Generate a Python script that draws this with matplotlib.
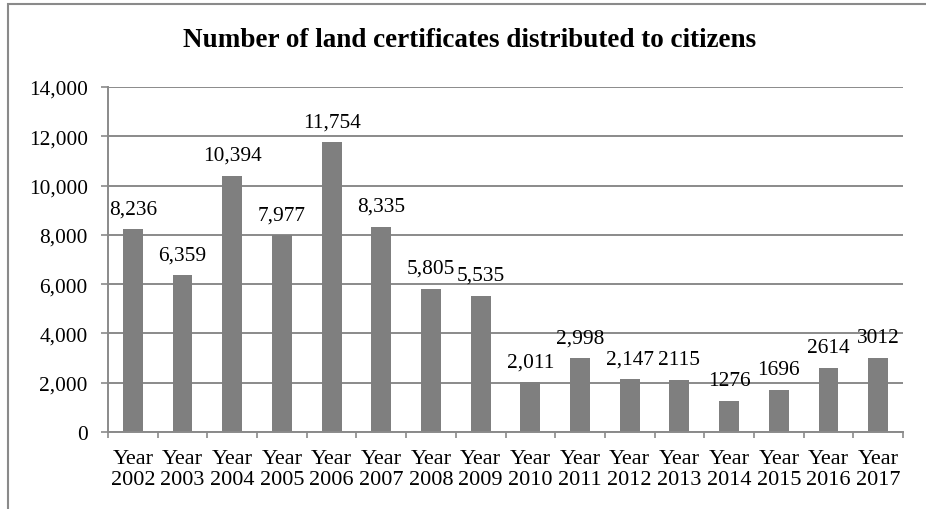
import matplotlib.pyplot as plt
from matplotlib.patches import Rectangle
from matplotlib.ticker import FixedLocator, FuncFormatter

years = ['2002', '2003', '2004', '2005', '2006', '2007', '2008', '2009',
         '2010', '2011', '2012', '2013', '2014', '2015', '2016', '2017']
certificates = [8236, 6359, 10394, 7977, 11754, 8335, 5805, 5535,
                2011, 2998, 2147, 2115, 1276, 1696, 2614, 3012]
value_labels = ['8,236', '6,359', '10,394', '7,977', '11,754', '8,335', '5,805', '5,535',
                '2,011', '2,998', '2,147', '2115', '1276', '1696', '2614', '3012']

GRAY = '#8a8a8a'
FONT = 'Liberation Serif'

plt.rcParams['font.family'] = [FONT, 'DejaVu Serif']

fig = plt.figure(figsize=(9.26, 5.10), dpi=100)
ax = fig.add_axes([108 / 926, 77 / 510, 795 / 926, 345 / 510])

positions = list(range(len(years)))
ax.bar(positions, certificates, width=0.40, color='#7f7f7f', zorder=3)

for x, v, lab in zip(positions, certificates, value_labels):
    ax.annotate(lab, (x, v), xytext=(0, 11.5), textcoords='offset points',
                ha='center', va='baseline', fontsize=15.4, color='black')

ax.set_xlim(-0.5, len(years) - 0.5)
ax.set_ylim(0, 14000)
ax.set_yticks(range(0, 14001, 2000))
ax.yaxis.set_major_formatter(FuncFormatter(lambda v, _: f'{int(v):,}'))
ax.grid(axis='y', color=GRAY, linewidth=1.4, zorder=0)

ax.set_xticks(positions)
ax.set_xticklabels([f'Year\n{y}' for y in years], linespacing=1.15)
ax.xaxis.set_minor_locator(FixedLocator([p - 0.5 for p in positions] + [len(years) - 0.5]))
ax.tick_params(axis='x', which='major', length=0, pad=12, labelsize=16)
ax.tick_params(axis='x', which='minor', length=4.5, width=1.2, color=GRAY)
ax.tick_params(axis='y', length=5, width=1.2, color=GRAY, pad=9.5, labelsize=15.4)

for side in ('top', 'right'):
    ax.spines[side].set_visible(False)
for side in ('left', 'bottom'):
    ax.spines[side].set_color(GRAY)
    ax.spines[side].set_linewidth(1.4)
    ax.spines[side].set_zorder(4)

fig.text(470 / 926, 1 - 47 / 510, 'Number of land certificates distributed to citizens',
         ha='center', va='baseline', fontsize=19.5, fontweight='bold', family=FONT)

# chart border, only the top and left edges fall inside the image
fig.patches.append(Rectangle((7.5 / 926, -0.1), 1.2, 1 - 4.5 / 510 + 0.1,
                             transform=fig.transFigure, fill=False,
                             edgecolor=GRAY, linewidth=1.5))

fig.savefig('out.png', dpi=100)
